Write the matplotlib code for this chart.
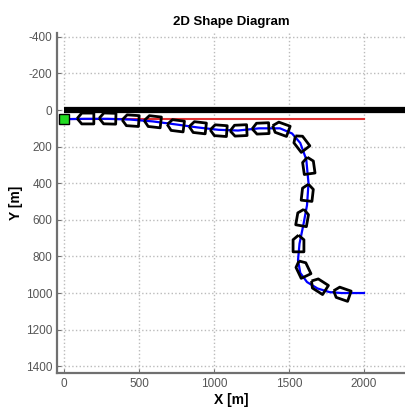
import numpy as np
import matplotlib.pyplot as plt
from matplotlib.markers import MarkerStyle
from matplotlib.transforms import Affine2D

# ------------------------------------------------------------
# dados
# ------------------------------------------------------------
# trajetoria (linha azul)
traj_x = [0, 140, 290, 440, 590, 740, 890, 1030, 1160, 1300, 1440, 1520,
          1575, 1615, 1630, 1620, 1595, 1570, 1560, 1575, 1620, 1690, 1770,
          1850, 1920, 2000]
traj_y = [50, 48, 48, 52, 62, 78, 95, 108, 112, 100, 100, 128,
          180, 270, 400, 520, 630, 730, 820, 890, 940, 975, 995,
          1000, 1000, 1000]

# posicoes dos navios (marcadores)
navio_x = [140, 287, 440, 587, 740, 887, 1027, 1160, 1307, 1440, 1573,
           1627, 1620, 1587, 1560, 1587, 1693, 1847]
navio_y = [45, 45, 52, 62, 80, 93, 107, 110, 96, 100, 175,
           300, 448, 585, 727, 863, 956, 1000]

# linha de referencia (vermelha) e margem (preta)
ref_x = [0, 2000]
ref_y = [50, 50]
margem_x = [0, 2400]
margem_y = [0, 0]
inicio = (0, 50)

xticks = [0, 500, 1000, 1500, 2000]
yticks = [-400, -200, 0, 200, 400, 600, 800, 1000, 1200, 1400]

# ------------------------------------------------------------
# figura
# ------------------------------------------------------------
plt.rcParams['font.family'] = ['Liberation Sans', 'DejaVu Sans']
plt.rcParams['axes.unicode_minus'] = False

fig = plt.figure(figsize=(4.06, 4.11), dpi=100)
ax = fig.add_axes([57 / 406, 38 / 411, 1 - 57 / 406, 340 / 411])

ax.set_xlim(-47, 2280)
ax.set_ylim(1437, -421)
ax.set_xticks(xticks)
ax.set_yticks(yticks)
ax.grid(True, linestyle=':', color='#bbbbbb', linewidth=1.0)

for lado in ['top', 'right']:
    ax.spines[lado].set_visible(False)
for lado in ['left', 'bottom']:
    ax.spines[lado].set_color('#707070')
    ax.spines[lado].set_linewidth(1.6)

ax.tick_params(colors='#707070', labelcolor='#555555', labelsize=8.5,
               length=3, direction='in')

ax.plot(margem_x, margem_y, color='black', linewidth=4.5, solid_capstyle='butt',
        zorder=3)
ax.plot(ref_x, ref_y, color='#e03030', linewidth=1.5, zorder=3)
ax.plot(traj_x, traj_y, color='#0000ff', linewidth=1.6, zorder=4)

# orientacao dos navios em coordenadas de tela
pts = ax.transData.transform(np.column_stack([navio_x, navio_y]))
dx = np.gradient(pts[:, 0])
dy = np.gradient(pts[:, 1])
angulos = np.degrees(np.arctan2(dy, dx))

casco = [(-1, 0), (-0.45, 0.65), (1, 0.65), (1, -0.65), (-0.45, -0.65), (-1, 0)]
for x, y, ang in zip(navio_x, navio_y, angulos):
    m = MarkerStyle(casco, transform=Affine2D().rotate_deg(ang))
    ax.plot(x, y, marker=m, markersize=12, markerfacecolor='none',
            markeredgecolor='black', markeredgewidth=2.0, linestyle='none',
            zorder=5)

ax.plot(*inicio, marker='s', markersize=7, markerfacecolor='#22dd22',
        markeredgecolor='black', markeredgewidth=1.0, zorder=6)

ax.set_xlabel('X [m]', fontsize=10, fontweight='bold', labelpad=2)
ax.set_ylabel('Y [m]', fontsize=10, fontweight='bold', labelpad=2)
ax.set_title('2D Shape Diagram', fontsize=9.5, fontweight='bold', pad=6)

fig.savefig('out.png', dpi=100)
